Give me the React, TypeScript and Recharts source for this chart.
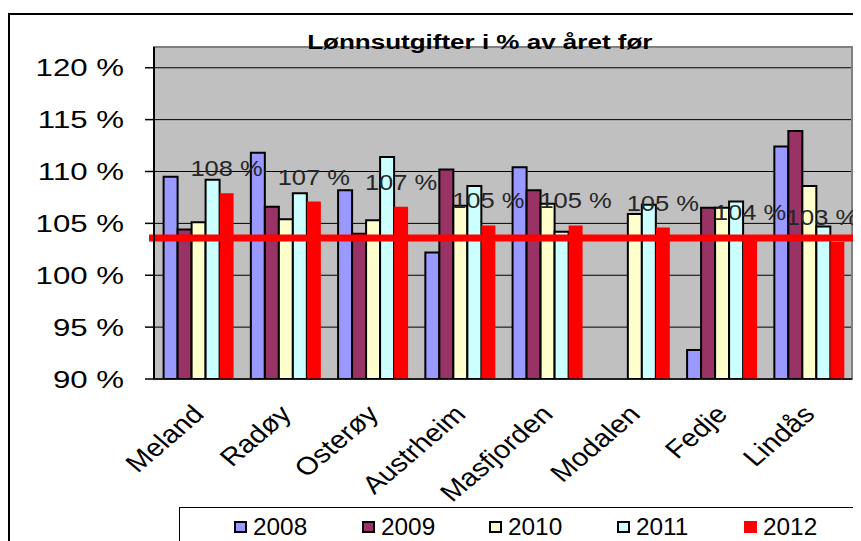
import React from 'react';
import {
  BarChart,
  Bar,
  XAxis,
  YAxis,
  CartesianGrid,
  ReferenceLine,
  ReferenceArea,
  LabelList,
} from 'recharts';

const categories = ['Meland', 'Radøy', 'Osterøy', 'Austrheim', 'Masfjorden', 'Modalen', 'Fedje', 'Lindås'];
const years = ['2008', '2009', '2010', '2011', '2012'];
const v2008 = [109.5, 111.8, 108.2, 102.2, 110.4, null, 92.8, 112.4];
const v2009 = [104.4, 106.6, 104.0, 110.2, 108.2, null, 106.5, 113.9];
const v2010 = [105.1, 105.4, 105.3, 106.7, 106.9, 105.9, 106.5, 108.6];
const v2011 = [109.2, 107.9, 111.4, 108.6, 104.2, 106.8, 107.1, 104.7];
const v2012 = [107.9, 107.1, 106.6, 104.8, 104.8, 104.6, 103.7, 103.2];
const referenceValue = 103.6;
const yTicks = [90, 95, 100, 105, 110, 115, 120];
const boundaryTicks = [0, 1, 2, 3, 4, 5, 6, 7, 8];
const titleText = 'Lønnsutgifter i % av året før';

const colors = ['#9999FF', '#993366', '#FFFFCC', '#CCFFFF', '#FF0000'];
const FONT = '"Liberation Sans", Arial, sans-serif';

const seriesValues = [v2008, v2009, v2010, v2011, v2012];
const data = categories.map((name, i) => {
  const row: any = { name };
  years.forEach((y, k) => {
    row['y' + y] = seriesValues[k][i];
  });
  return row;
});

const YTick = (props: any) => {
  const { x, y, payload } = props;
  return (
    <g transform={`translate(${x - 19},${y}) scale(1.3,1)`}>
      <text x={0} y={0} dy="0.36em" textAnchor="end" fontSize={24} fontFamily={FONT} fill="#000">
        {`${payload.value} %`}
      </text>
    </g>
  );
};

const XTick = (props: any) => {
  const { x, y, payload } = props;
  return (
    <g transform={`translate(${x - 7},${y + 15}) scale(1.17,1) rotate(-45)`}>
      <text x={0} y={0} dy="0.72em" textAnchor="end" fontSize={25} fontFamily={FONT} fill="#000">
        {payload.value}
      </text>
    </g>
  );
};

const RedLabel = (props: any) => {
  const { x, y, width, value } = props;
  if (value == null) return null;
  const cx = Math.min(x + width / 2, 814);
  return (
    <g transform={`translate(${cx},${y - 17}) scale(1.16,1)`}>
      <text x={0} y={0} textAnchor="middle" fontSize={22} fontFamily={FONT} fill="#262626">
        {`${Math.round(value)} %`}
      </text>
    </g>
  );
};

const ExtLine = (props: any) => {
  const { x1, y1, x2, y2 } = props;
  return <line x1={x1 - 5} y1={y1} x2={x2 + 12} y2={y2} stroke="#FF0000" strokeWidth={7} />;
};

export default function App() {
  return (
    <div style={{ position: 'relative', width: 853, height: 533, overflow: 'hidden', background: '#fff', fontFamily: FONT }}>
      <div
        style={{
          position: 'absolute',
          left: 0,
          top: 5,
          width: 900,
          height: 600,
          border: '2px solid #000',
          boxSizing: 'border-box',
        }}
      />
      <div style={{ position: 'absolute', left: 0, top: 0 }}>
        <BarChart
          width={853}
          height={533}
          data={data}
          margin={{ top: 39, right: 9, left: 0, bottom: 0 }}
          barCategoryGap="11%"
          barGap={0}
        >
          <CartesianGrid horizontal vertical={false} stroke="#000" fill="#C0C0C0" fillOpacity={1} />
          <XAxis
            xAxisId="bounds"
            type="number"
            domain={[0, 8]}
            ticks={boundaryTicks}
            tick={false}
            tickSize={7}
            axisLine={false}
            tickLine={{ stroke: '#000', strokeWidth: 1.5 }}
            height={0}
            allowDataOverflow
          />
          <XAxis
            dataKey="name"
            interval={0}
            height={162}
            tickLine={false}
            tickSize={7}
            axisLine={{ stroke: '#000', strokeWidth: 1.5 }}
            tick={<XTick />}
          />
          <YAxis
            domain={[90, 122]}
            ticks={yTicks}
            interval={0}
            allowDataOverflow
            width={146}
            tickSize={9}
            tickLine={{ stroke: '#000', strokeWidth: 1.5 }}
            axisLine={{ stroke: '#000', strokeWidth: 2 }}
            tick={<YTick />}
          />
          <ReferenceArea y1={90} y2={122} fill="none" stroke="#808080" strokeWidth={2} ifOverflow="visible" />
          {years.map((y, k) => (
            <Bar
              key={y}
              dataKey={'y' + y}
              name={y}
              fill={colors[k]}
              stroke={k === 4 ? 'none' : '#000'}
              strokeWidth={k === 4 ? 0 : 2}
              isAnimationActive={false}
            >
              {k === 4 ? <LabelList dataKey={'y' + y} content={<RedLabel />} /> : null}
            </Bar>
          ))}
          <ReferenceLine y={referenceValue} stroke="#FF0000" strokeWidth={7} shape={<ExtLine />} ifOverflow="visible" />
        </BarChart>
      </div>
      <div
        style={{
          position: 'absolute',
          left: 0,
          top: 22,
          width: 944,
          textAlign: 'center',
          fontWeight: 'bold',
          fontSize: 20,
          lineHeight: '24px',
          color: '#000',
          whiteSpace: 'nowrap',
        }}
      >
        <span style={{ display: 'inline-block', transform: 'scaleX(1.3)' }}>{titleText}</span>
      </div>
      <div
        style={{
          position: 'absolute',
          left: 171,
          top: 499,
          width: 800,
          height: 100,
          border: '1px solid #000',
          background: '#fff',
        }}
      />
      {years.map((y, k) => (
        <React.Fragment key={y}>
          <div
            style={{
              position: 'absolute',
              left: 226 + k * 127.5,
              top: 513,
              width: 13,
              height: 12,
              background: colors[k],
              border: k === 4 ? 'none' : '2px solid #000',
              boxSizing: 'border-box',
            }}
          />
          <div
            style={{
              position: 'absolute',
              left: 245 + k * 127.5,
              top: 507,
              fontSize: 23,
              lineHeight: '24px',
              color: '#000',
              whiteSpace: 'nowrap',
              transformOrigin: 'left center',
              transform: 'scaleX(1.06)',
            }}
          >
            {y}
          </div>
        </React.Fragment>
      ))}
    </div>
  );
}
